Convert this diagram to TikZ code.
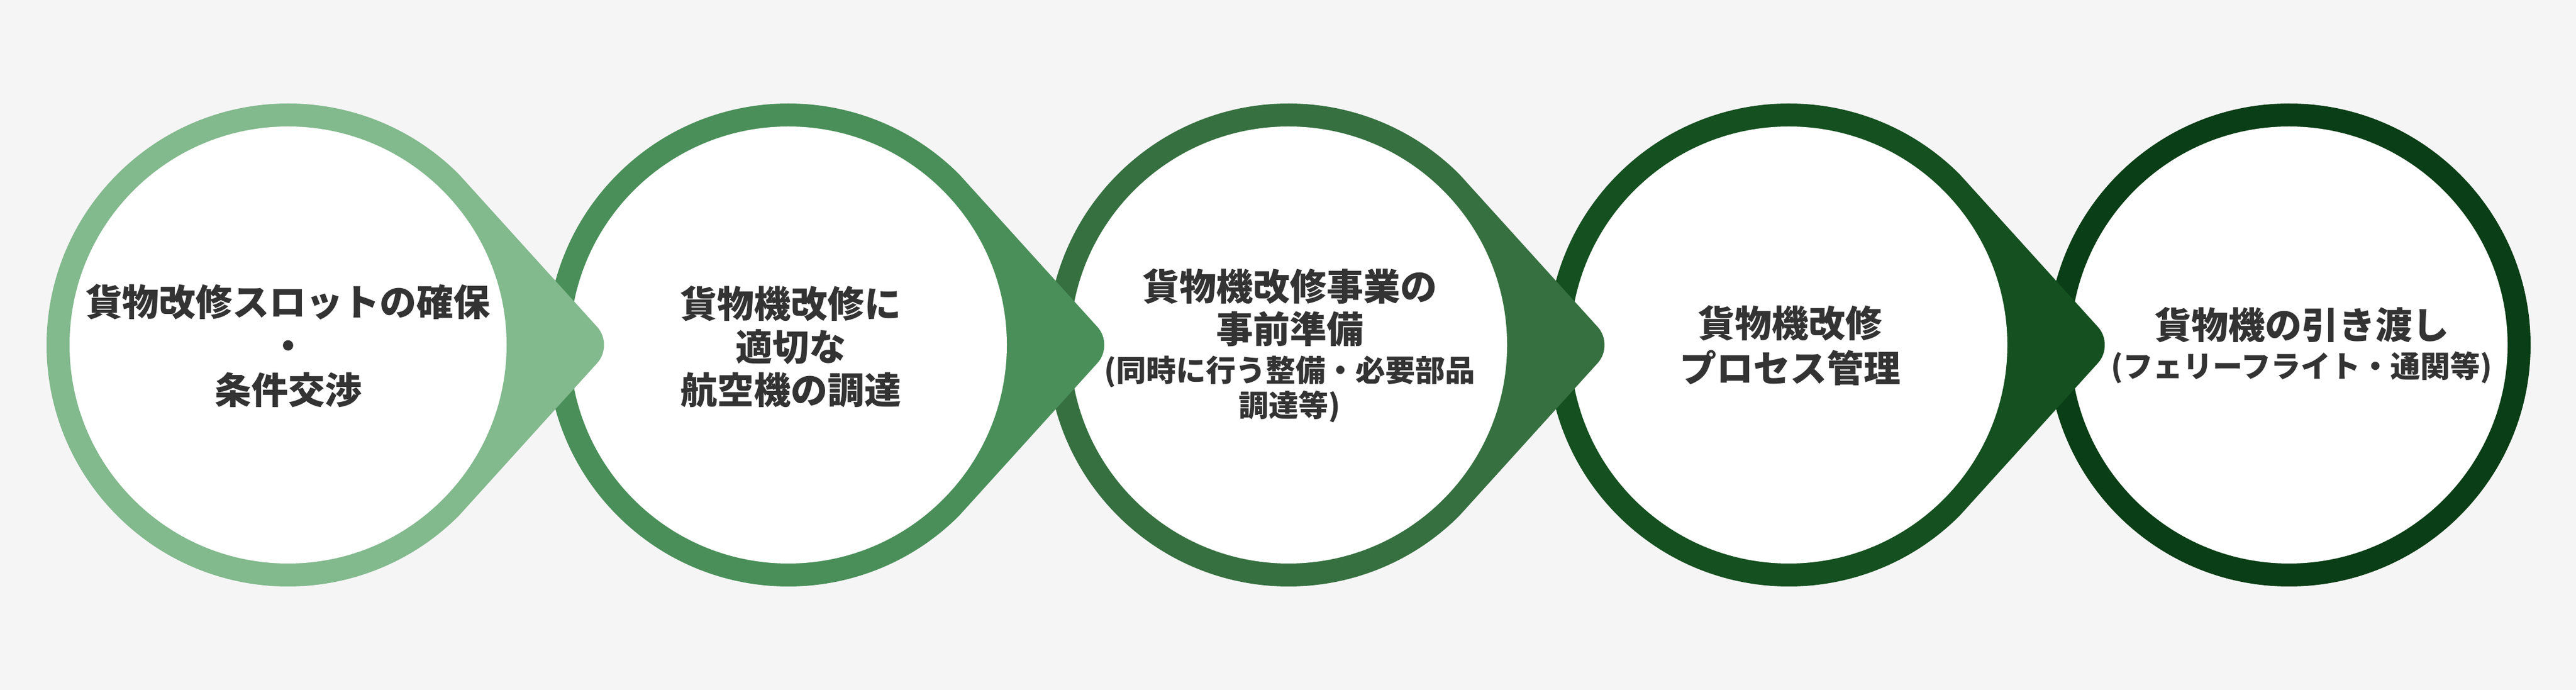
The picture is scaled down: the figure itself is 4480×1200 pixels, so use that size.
\documentclass[tikz,border=0pt]{standalone}
\usepackage{fontspec}
\newfontfamily\jp{Noto Sans CJK JP}
\usetikzlibrary{calc}
\definecolor{bg}{HTML}{F5F5F5}
\definecolor{cA}{HTML}{82B98D}
\definecolor{cB}{HTML}{4A8F59}
\definecolor{cC}{HTML}{367040}
\definecolor{cD}{HTML}{155020}
\definecolor{cE}{HTML}{0A3E16}
\definecolor{txt}{HTML}{333333}
\tikzset{
  bigtxt/.style={text=txt, inner sep=0pt, anchor=center,
    font=\jp\bfseries\fontsize{16pt}{19pt}\selectfont,
    text height=14.08pt, text depth=1.92pt},
  smalltxt/.style={text=txt, inner sep=0pt, anchor=center,
    font=\jp\bfseries\fontsize{13pt}{15.6pt}\selectfont,
    text height=11.44pt, text depth=1.56pt}
}
% teardrop: #1 centre coordinate name, #2 colour
\newcommand\stepdrop[2]{%
  \coordinate (#1-A) at ($(#1)+(45:420)$);
  \coordinate (#1-B) at ($(#1)+(-45:420)$);
  \coordinate (#1-T) at ($(#1)+(566,0)$);
  \coordinate (#1-P) at ($(#1-T)!10.5pt!(#1-A)$);
  \coordinate (#1-Q) at ($(#1-T)!10.5pt!(#1-B)$);
  \fill[#2] (#1-A) arc[start angle=45,end angle=315,radius=420]
     -- (#1-Q) .. controls ($(#1-Q)!0.55!(#1-T)$) and ($(#1-P)!0.55!(#1-T)$) .. (#1-P)
     -- cycle;
  \fill[white] (#1) circle[radius=380];
}
\begin{document}
\begin{tikzpicture}[x=0.25pt,y=0.25pt]
\useasboundingbox (0,0) rectangle (4480,1200);
\fill[bg] (0,0) rectangle (4480,1200);
\coordinate (c1) at (501,600);
\coordinate (c2) at (1371,600);
\coordinate (c3) at (2241,600);
\coordinate (c4) at (3111,600);
\coordinate (c5) at (3981,600);
% last circle (no arrow)
\fill[cE] (c5) circle[radius=420];
\fill[white] (c5) circle[radius=380];
\stepdrop{c4}{cD}
\stepdrop{c3}{cC}
\stepdrop{c2}{cB}
\stepdrop{c1}{cA}
% texts
\node[bigtxt] (t1a) at (501,675) {貨物改修スロットの確保};
\node[bigtxt] (t1b) at (501,599) {・};
\node[bigtxt] (t1c) at (501,522) {条件交渉};
\node[bigtxt] (t2a) at (1375,672) {貨物機改修に};
\node[bigtxt] (t2b) at (1375,597) {適切な};
\node[bigtxt] (t2c) at (1375,522) {航空機の調達};
\node[bigtxt] (t3a) at (2243,702) {貨物機改修事業の};
\node[bigtxt] (t3b) at (2243,628) {事前準備};
\node[smalltxt] (t3c) at (2243,556) {(同時に行う整備・必要部品};
\node[smalltxt] (t3d) at (2243,495) {調達等)};
\node[bigtxt] (t4a) at (3113,638) {貨物機改修};
\node[bigtxt] (t4b) at (3113,560) {プロセス管理};
\node[bigtxt] (t5a) at (4003,635) {貨物機の引き渡し};
\node[smalltxt] (t5b) at (4003,563) {(フェリーフライト・通関等)};
\end{tikzpicture}
\end{document}
